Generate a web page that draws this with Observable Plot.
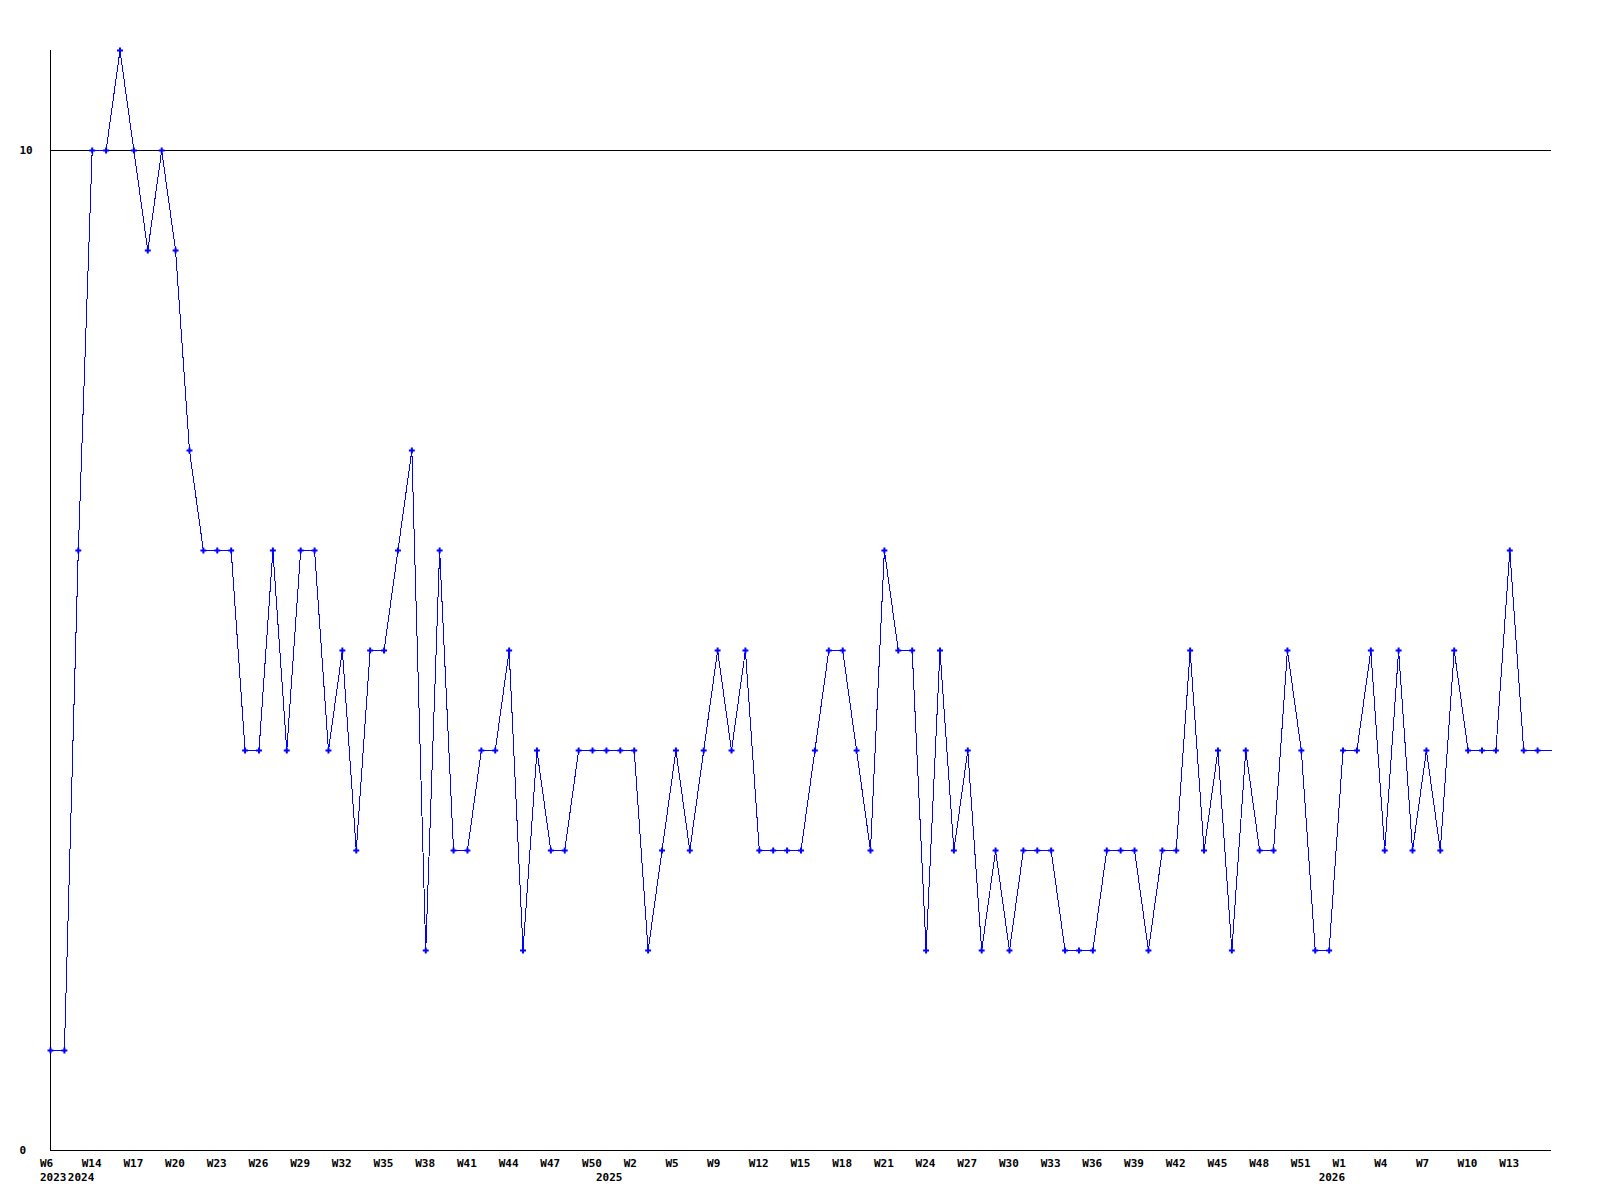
<!DOCTYPE html>
<html>
<head>
<meta charset="utf-8">
<script src="https://cdn.jsdelivr.net/npm/d3@7"></script>
<script src="https://cdn.jsdelivr.net/npm/@observablehq/plot@0.6"></script>
<style>
  html, body { margin: 0; padding: 0; background: #fff; }
</style>
</head>
<body>
<div id="chart"></div>
<script>
// Week categories (ordinal, with gaps as in the source)
const weeks = [
  "2023-W6","2023-W7",
  "2024-W13","2024-W14","2024-W15","2024-W16","2024-W17","2024-W18","2024-W19","2024-W20",
  "2024-W21","2024-W22","2024-W23","2024-W24","2024-W25","2024-W26","2024-W27","2024-W28",
  "2024-W29","2024-W30","2024-W31","2024-W32","2024-W33","2024-W34","2024-W35","2024-W36",
  "2024-W37","2024-W38","2024-W39","2024-W40","2024-W41","2024-W42","2024-W43","2024-W44",
  "2024-W45","2024-W46","2024-W47","2024-W48","2024-W49","2024-W50",
  "2025-W0","2025-W1","2025-W2","2025-W3","2025-W4","2025-W5","2025-W6","2025-W7",
  "2025-W9","2025-W10","2025-W11","2025-W12","2025-W13","2025-W14","2025-W15","2025-W16",
  "2025-W17","2025-W18","2025-W19","2025-W20","2025-W21","2025-W22","2025-W23","2025-W24",
  "2025-W25","2025-W26","2025-W27","2025-W28","2025-W29","2025-W30","2025-W31","2025-W32",
  "2025-W33","2025-W34","2025-W35","2025-W36","2025-W37","2025-W38","2025-W39","2025-W40",
  "2025-W41","2025-W42","2025-W43","2025-W44","2025-W45","2025-W46","2025-W47","2025-W48",
  "2025-W49","2025-W50","2025-W51","2025-W52",
  "2026-W0","2026-W1","2026-W2","2026-W3","2026-W4","2026-W5","2026-W6","2026-W7",
  "2026-W8","2026-W9","2026-W10","2026-W11","2026-W12","2026-W13","2026-W14","2026-W15",
  "2026-W16"
];

// Weekly counts
const counts = [
  1,1,6,10,10,11,10,9,10,9,
  7,6,6,6,4,4,6,4,6,6,
  4,5,3,5,5,6,7,2,6,3,
  3,4,4,5,2,4,3,3,4,4,
  4,4,4,2,3,4,3,4,5,4,
  5,3,3,3,3,4,5,5,4,3,
  6,5,5,2,5,3,4,2,3,2,
  3,3,3,2,2,2,3,3,3,2,
  3,3,5,3,4,2,4,3,3,5,
  4,2,2,4,4,5,3,5,3,4,
  3,5,4,4,4,6,4,4,4
];

// Number of completed weeks that get a marker (last week is in progress)
const markedWeeks = 108;

// Tick labels every third completed category
const tickWeeks = weeks.filter((d, i) => i % 3 === 0 && i < markedWeeks);

// Year labels placed at the first category of each year
const yearLabels = ["2023", "2024", "2025", "2026"];
const yearStarts = ["2023-W6", "2024-W13", "2025-W0", "2026-W0"];

// Y-axis labels
const yTicks = [0, 10];

const data = weeks.map((w, i) => ({week: w, count: counts[i]}));
const years = yearLabels.map((y, i) => ({year: y, week: yearStarts[i]}));

const chart = Plot.plot({
  width: 1600,
  height: 1200,
  marginLeft: 50,
  marginRight: 49,
  marginTop: 50,
  marginBottom: 50,
  style: {
    fontFamily: "'DejaVu Sans Mono', 'Liberation Mono', monospace",
    fontWeight: "bold",
    fontSize: "11px",
    background: "#fff",
    color: "#000"
  },
  x: {type: "point", domain: weeks, padding: 0, axis: null},
  y: {domain: [0, 11], axis: null},
  marks: [
    Plot.ruleY([10], {stroke: "#000", strokeWidth: 1}),
    Plot.ruleY([0], {stroke: "#000", strokeWidth: 1}),
    Plot.ruleX([weeks[0]], {y1: 0, y2: 11, stroke: "#000", strokeWidth: 1}),
    Plot.axisX({
      ticks: tickWeeks,
      tickFormat: d => d.split("-")[1],
      tickSize: 0,
      tickPadding: 9,
      textAnchor: "start",
      dx: -10.5,
      label: null,
      fill: "#000"
    }),
    Plot.text(years, {
      x: "week",
      text: "year",
      frameAnchor: "bottom",
      textAnchor: "start",
      dx: -10.5,
      dy: 30,
      fill: "#000"
    }),
    Plot.axisY({
      ticks: yTicks,
      tickFormat: d => String(d),
      tickSize: 0,
      tickPadding: 0,
      textAnchor: "start",
      dx: -31,
      label: null,
      fill: "#000"
    }),
    Plot.line(data, {
      x: "week",
      y: "count",
      stroke: "#0000ff",
      strokeWidth: 1,
      shapeRendering: "crispEdges"
    }),
    Plot.dot(data.slice(0, markedWeeks), {
      x: "week",
      y: "count",
      symbol: "cross",
      r: 2.5,
      fill: "#0000ff",
      stroke: "none"
    })
  ]
});

document.getElementById("chart").appendChild(chart);
</script>
</body>
</html>
